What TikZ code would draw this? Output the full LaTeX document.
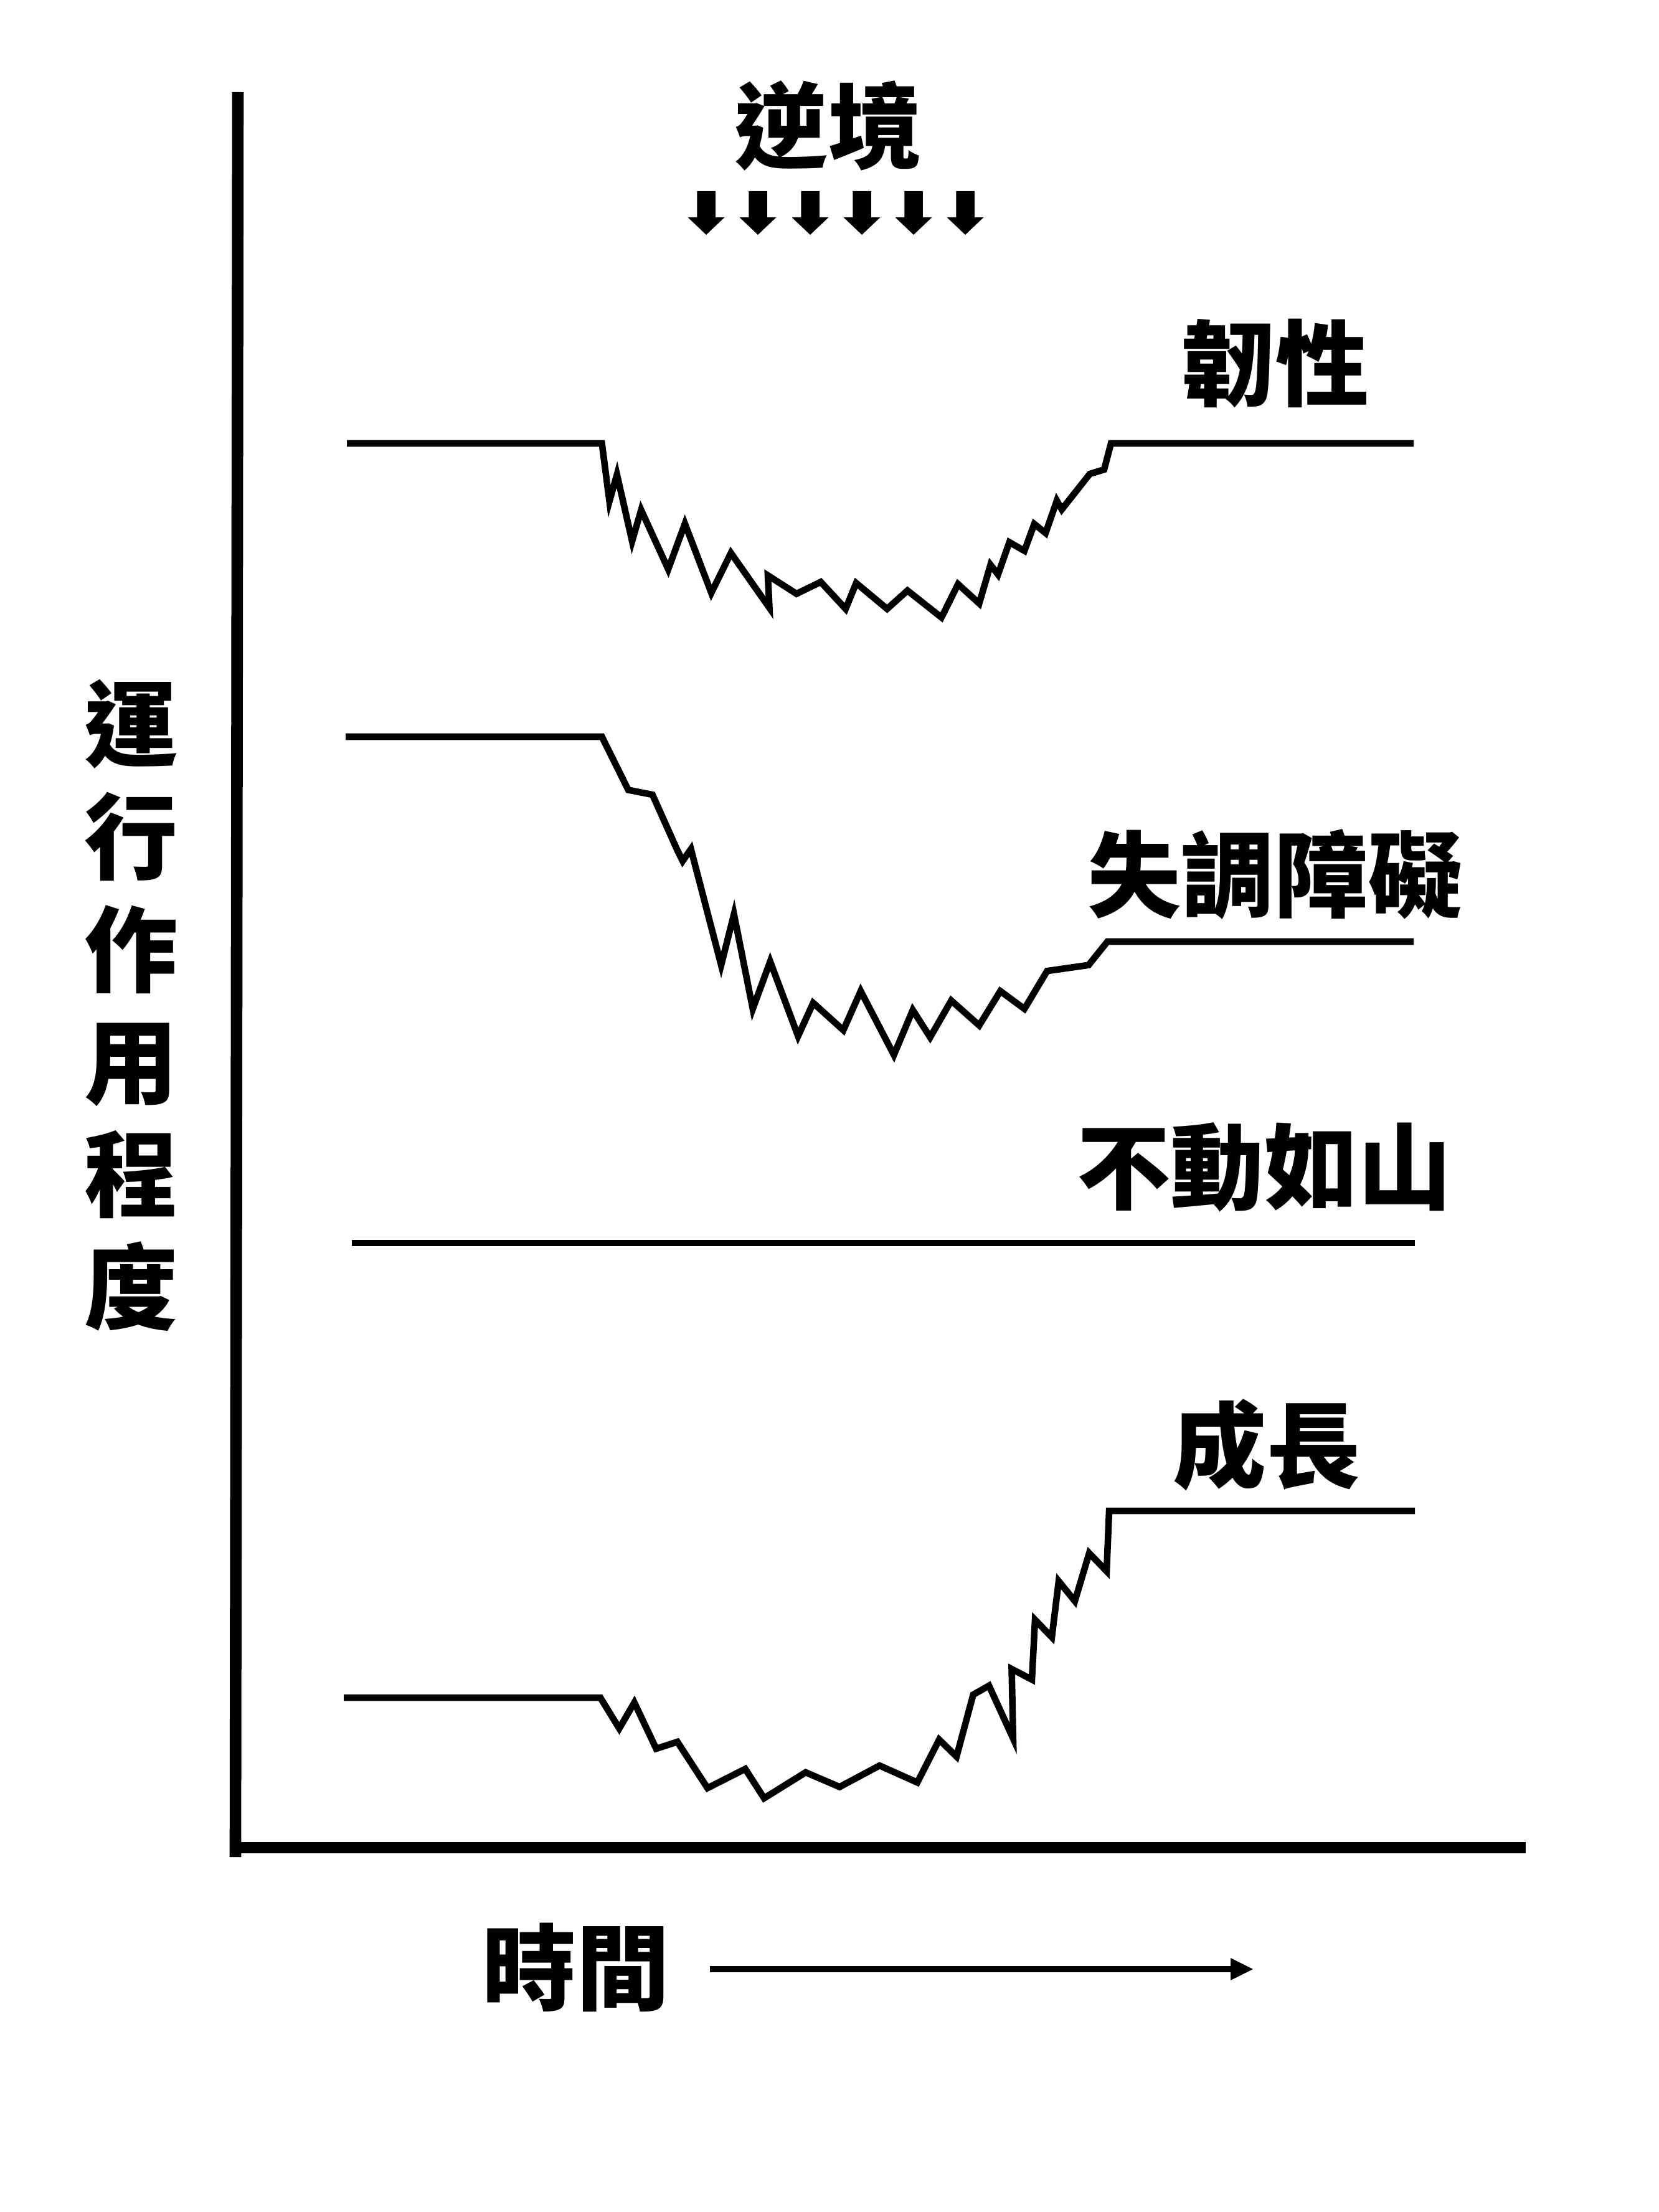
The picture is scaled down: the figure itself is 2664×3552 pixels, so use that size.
\documentclass[tikz,border=0pt]{standalone}
\usepackage{fontspec}
\newfontfamily\cjk{Noto Sans CJK TC}
\usetikzlibrary{arrows.meta}
\begin{document}
\begin{tikzpicture}[x=0.01cm,y=-0.01cm,
  axisline/.style={line width=5.3pt,line cap=butt},
  curve/.style={line width=3pt,line join=miter,miter limit=10},
  lbl/.style={font=\cjk\bfseries\fontsize{42.7pt}{51pt}\selectfont,inner sep=0pt,anchor=base},
  dnarrow/.style={fill=black},
  timearrow/.style={line width=2.85pt,-{Triangle[length=3.7mm,width=3.3mm]}}]
\useasboundingbox[fill=white] (0,0) rectangle (2664,3552);

% axes
\coordinate (ytop) at (382,148);
\coordinate (ybot) at (378,2982);
\coordinate (xl) at (369,2967);
\coordinate (xr) at (2450,2967);
\draw[axisline] (ytop) -- (ybot);
\draw[axisline] (xl) -- (xr);

% title and arrows
\node[lbl] (title) at (1330,260) {逆境};
\foreach \cx in {1134,1217,1301,1384,1467,1550}{
  \fill[dnarrow] (\cx-14.75,307) -- (\cx+14.75,307) -- (\cx+14.75,349) -- (\cx+29.5,349)
    -- (\cx,377) -- (\cx-29.5,349) -- (\cx-14.75,349) -- cycle;
}

% labels
\node[lbl] (res) at (2048,640) {韌性};
\node[lbl] (dys) at (2047,1461) {失調障礙};
\node[lbl] (stab) at (2030,1930) {不動如山};
\node[lbl] (grow) at (2034,2377) {成長};

% y label
\node[lbl] (y1) at (211,1219) {運};
\node[lbl] (y2) at (211,1400) {行};
\node[lbl] (y3) at (211,1581) {作};
\node[lbl] (y4) at (211,1761) {用};
\node[lbl] (y5) at (211,1942) {程};
\node[lbl] (y6) at (211,2123) {度};

% time label and arrow
\node[lbl] (time) at (925,3216) {時間};
\coordinate (ta) at (1140,3162);
\coordinate (tb) at (2013,3162);
\draw[timearrow] (ta) -- (tb);

% resilience curve
\draw[curve] (557,712) -- (966.5,712) -- (978.6,805) -- (990.7,762) -- (1015,869)
  -- (1029.5,819) -- (1073,914) -- (1099.8,841) -- (1142.2,952) -- (1173.7,888)
  -- (1235.5,976) -- (1233,924) -- (1279,953.5) -- (1317.9,934.5) -- (1357.9,977.7)
  -- (1374.8,936.3) -- (1424.5,977.7) -- (1457.2,948.3) -- (1511.8,991.5)
  -- (1538.4,938) -- (1572.4,969) -- (1590.5,907) -- (1602.6,922.5) -- (1620.8,870.7)
  -- (1645,884.5) -- (1660.8,841.4) -- (1679,856) -- (1697,804) -- (1705,818)
  -- (1750,761) -- (1773,754) -- (1784,712) -- (2270,712);

% dysfunction curve
\draw[curve] (555,1183) -- (966.5,1183) -- (1008.9,1268.5) -- (1047.7,1276.1)
  -- (1087.7,1365.4) -- (1096.2,1382.5) -- (1109.5,1363.5) -- (1158,1549.7)
  -- (1178.6,1468) -- (1208.8,1620) -- (1236.7,1544) -- (1281.5,1663.7)
  -- (1305.8,1610.5) -- (1354.2,1654.2) -- (1382.1,1591.5) -- (1435.4,1694)
  -- (1465.7,1621.9) -- (1493.6,1665.6) -- (1527.5,1606.7) -- (1572.4,1646.6)
  -- (1606.3,1591.5) -- (1645,1620) -- (1681.4,1559.2) -- (1748,1549.7)
  -- (1778.3,1512) -- (2270,1512);

% stable line
\coordinate (sl) at (565,1996);
\coordinate (sr) at (2272,1996);
\draw[curve] (sl) -- (sr);

% growth curve
\draw[curve] (552,2726) -- (964,2726) -- (994.4,2775.5) -- (1018.6,2734)
  -- (1053.7,2808) -- (1087.7,2797) -- (1136.1,2871.2) -- (1196.7,2840.5)
  -- (1227,2887.5) -- (1293.7,2846) -- (1348.2,2869.4) -- (1412.4,2835.1)
  -- (1473,2862.2) -- (1508.1,2793.5) -- (1536,2820.6) -- (1562.7,2721.3)
  -- (1588.1,2706.8) -- (1626.9,2791.7) -- (1624.5,2680) -- (1657,2697)
  -- (1662,2601) -- (1689,2629) -- (1700,2539) -- (1726,2571) -- (1749,2494)
  -- (1777,2523) -- (1781,2426) -- (2272,2426);
\end{tikzpicture}
\end{document}
